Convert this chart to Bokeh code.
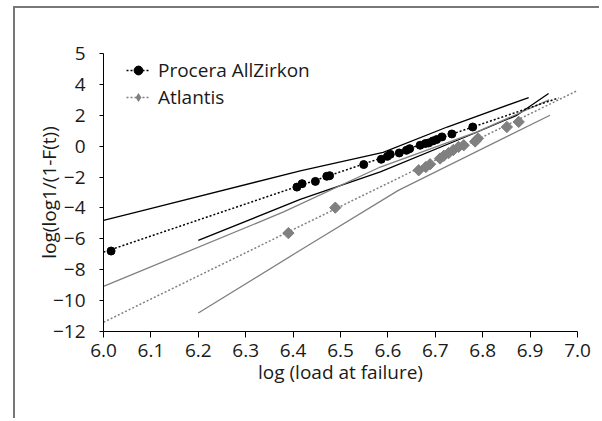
import math
from bokeh.plotting import figure
from bokeh.models import Range1d, FixedTicker, Legend, LegendItem
from bokeh.embed import file_html
from bokeh.resources import INLINE

# ---- data ----
procera_x = [6.016, 6.408, 6.419, 6.447, 6.471, 6.477, 6.549, 6.586, 6.599, 6.605,
             6.624, 6.639, 6.646, 6.668, 6.679, 6.686, 6.695, 6.703, 6.714, 6.735, 6.779]
procera_y = [-6.79, -2.65, -2.43, -2.28, -1.95, -1.91, -1.19, -0.85, -0.66, -0.53,
             -0.44, -0.27, -0.16, 0.06, 0.17, 0.21, 0.34, 0.43, 0.60, 0.79, 1.24]

atlantis_x = [6.390, 6.489, 6.665, 6.680, 6.689, 6.710, 6.718, 6.728, 6.738, 6.749,
              6.760, 6.784, 6.790, 6.851, 6.876]
atlantis_y = [-5.63, -3.98, -1.56, -1.35, -1.17, -0.80, -0.62, -0.45, -0.25, -0.05,
              0.06, 0.30, 0.50, 1.24, 1.57]

# trend lines (linear fits)
procera_trend_x = [6.0, 6.96]
procera_trend_y = [-6.86, 3.12]
atlantis_trend_x = [6.0, 7.0]
atlantis_trend_y = [-11.4, 3.6]

# confidence bounds
procera_upper_x = [6.0, 6.078, 6.415, 6.59, 6.725, 6.897]
procera_upper_y = [-4.8, -4.2, -1.6, -0.4, 1.24, 3.15]
procera_lower_x = [6.2, 6.415, 6.584, 6.781, 6.872, 6.939]
procera_lower_y = [-6.1, -3.45, -1.67, 0.82, 2.0, 3.41]
atlantis_upper_x = [6.0, 6.38, 6.584, 6.788, 6.94]
atlantis_upper_y = [-9.08, -4.26, -1.35, 0.92, 3.0]
atlantis_lower_x = [6.2, 6.415, 6.622, 6.942]
atlantis_lower_y = [-10.8, -6.74, -2.86, 2.0]

x_ticks = [6.0, 6.1, 6.2, 6.3, 6.4, 6.5, 6.6, 6.7, 6.8, 6.9, 7.0]
x_tick_labels = ["6.0", "6.1", "6.2", "6.3", "6.4", "6.5", "6.6", "6.7", "6.8", "6.9", "7.0"]
y_ticks = [-12, -10, -8, -6, -4, -2, 0, 2, 4, 6]
y_tick_labels = ["\u221212", "\u221210", "\u22128", "\u22126", "\u22124", "\u22122", "0", "2", "4", "5"]

series_names = ["Procera AllZirkon", "Atlantis"]

FONT = "Open Sans"
BLACK = "#000000"
GRAY = "#808080"
TXT = "#1a1a1a"

p = figure(width=586, height=412, x_range=Range1d(6.0, 7.0), y_range=Range1d(-12, 6),
           output_backend="svg", toolbar_location=None,
           min_border_left=88, min_border_top=45, min_border_right=24, min_border_bottom=89)
p.styles = {"position": "absolute", "left": "13px", "top": "6px",
            "border-left": "2px solid #777777", "border-top": "2px solid #777777"}
p.grid.visible = False
p.outline_line_color = None
p.background_fill_color = "white"
p.border_fill_color = "white"

for ax in (p.xaxis[0], p.yaxis[0]):
    ax.axis_line_color = BLACK
    ax.major_tick_line_color = BLACK
    ax.minor_tick_line_color = None
    ax.major_tick_in = 0
    ax.major_label_text_font = FONT
    ax.major_label_text_font_size = "19px"
    ax.major_label_text_color = TXT
    ax.axis_label_text_font = FONT
    ax.axis_label_text_font_size = "19px"
    ax.axis_label_text_font_style = "normal"
    ax.axis_label_text_color = TXT

p.xaxis.ticker = FixedTicker(ticks=x_ticks)
p.xaxis.major_label_overrides = dict(zip(x_ticks, x_tick_labels))
p.xaxis.major_tick_out = 6
p.xaxis.major_label_standoff = 6
p.xaxis.axis_label = "log (load at failure)"
p.xaxis.axis_label_standoff = -1

p.yaxis.ticker = FixedTicker(ticks=y_ticks)
p.yaxis.major_label_overrides = dict(zip(y_ticks, y_tick_labels))
p.yaxis.major_tick_out = 4
p.yaxis.major_label_standoff = 14
p.yaxis.axis_label = "log(log1/(1-F(t))"
p.yaxis.axis_label_standoff = -12

# confidence bounds
p.line(procera_upper_x, procera_upper_y, line_color=BLACK, line_width=1.3)
p.line(procera_lower_x, procera_lower_y, line_color=BLACK, line_width=1.3)
p.line(atlantis_upper_x, atlantis_upper_y, line_color=GRAY, line_width=1.3)
p.line(atlantis_lower_x, atlantis_lower_y, line_color=GRAY, line_width=1.3)

# trend lines
t_pro = p.line(procera_trend_x, procera_trend_y, line_color=BLACK, line_width=1.5, line_dash="2 2")
t_atl = p.line(atlantis_trend_x, atlantis_trend_y, line_color=GRAY, line_width=1.5, line_dash="2 2")

# points
s_atl = p.scatter(atlantis_x, atlantis_y, marker="square", angle=math.pi / 4, size=8,
                  fill_color=GRAY, line_color=GRAY)
s_pro = p.scatter(procera_x, procera_y, marker="circle", size=8, fill_color=BLACK, line_color=BLACK)
# legend swatch for the diamonds (legend glyphs ignore marker angle); zero size in the plot
s_atl_key = p.scatter(atlantis_x, atlantis_y, marker="diamond", size=0,
                      fill_color=GRAY, line_color=None)

legend = Legend(items=[LegendItem(label=series_names[0], renderers=[t_pro, s_pro]),
                       LegendItem(label=series_names[1], renderers=[t_atl, s_atl_key])],
                location=(23, 221), orientation="vertical",
                background_fill_alpha=0, border_line_color=None,
                padding=0, margin=0, spacing=1,
                glyph_width=24, glyph_height=22, label_height=20, label_standoff=8,
                label_text_font=FONT, label_text_font_size="19px", label_text_color=TXT)
p.add_layout(legend)

open("out.html", "w").write(file_html(p, INLINE))
